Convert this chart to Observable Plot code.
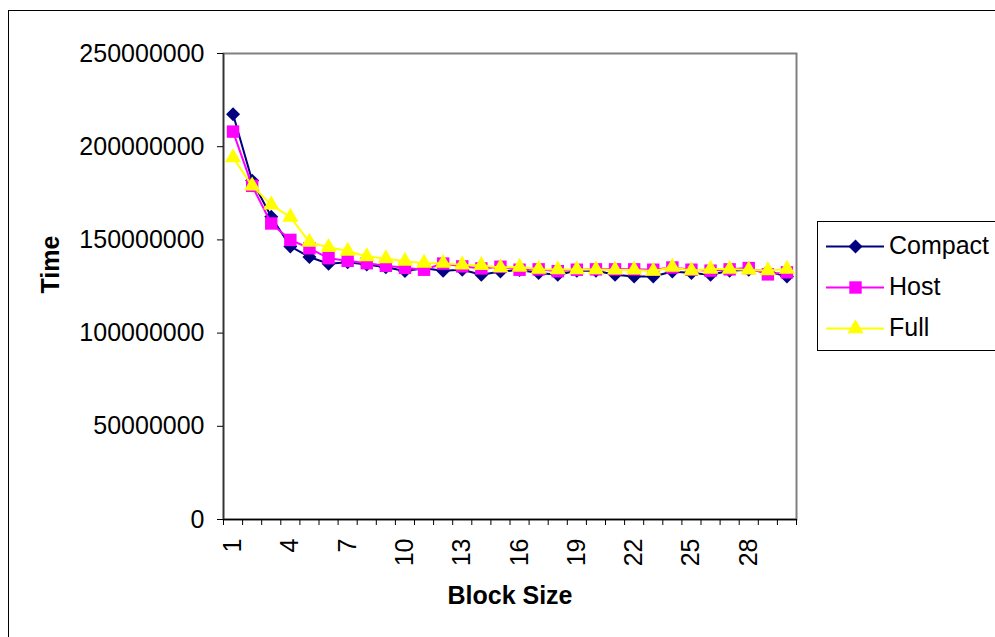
<!DOCTYPE html>
<html><head><meta charset="utf-8">
<script src="https://cdn.jsdelivr.net/npm/d3@7"></script>
<script src="https://cdn.jsdelivr.net/npm/@observablehq/plot@0.6"></script>
<style>
html,body{margin:0;padding:0;background:#fff;overflow:hidden;width:995px;height:637px;}
#wrap{position:relative;width:995px;height:637px;font-family:"Liberation Sans",Arial,sans-serif;color:#000;}
#border{position:absolute;left:8px;top:10px;width:1100px;height:800px;border:1px solid #000;box-sizing:border-box;}
#chart{position:absolute;left:0;top:0;width:995px;height:637px;}
#legend{position:absolute;left:817px;top:221px;width:300px;height:130px;border:1px solid #000;background:#fff;box-sizing:border-box;}
.item{position:absolute;left:0;width:300px;height:30px;}
.item svg{position:absolute;left:8px;top:0;max-width:none;}
.item span{position:absolute;left:71px;top:0px;font-size:25px;line-height:28px;white-space:nowrap;}
</style></head><body>
<div id="wrap"><div id="border"></div><div id="chart"></div><div id="legend"></div></div>
<script>
const blockSizes = [1,2,3,4,5,6,7,8,9,10,11,12,13,14,15,16,17,18,19,20,21,22,23,24,25,26,27,28,29,30];
const seriesNames = ["Compact","Host","Full"];
const compact = [217400000,181800000,162400000,146500000,140800000,137200000,138000000,136800000,135300000,133300000,
                 134800000,133500000,134000000,131300000,133000000,133800000,132200000,131300000,133500000,133500000,
                 131300000,130400000,130400000,133000000,132200000,131300000,133500000,134000000,133200000,130400000];
const host    = [208100000,179000000,158800000,150000000,145500000,140200000,138800000,137500000,136100000,135000000,
                 134000000,137300000,135800000,134700000,135600000,134000000,134200000,133200000,134000000,134200000,
                 134200000,134200000,134000000,135200000,134000000,133500000,134200000,134900000,131500000,132600000];
const full    = [194200000,179000000,168800000,162200000,148800000,146000000,144000000,141100000,140000000,138600000,
                 137600000,137500000,136600000,136300000,135200000,135400000,134300000,134100000,134100000,134100000,
                 133900000,133900000,133300000,135400000,133500000,134400000,134400000,133900000,133500000,134400000];
const yTicks = [0,50000000,100000000,150000000,200000000,250000000];
const xLabelTicks = [1,4,7,10,13,16,19,22,25,28];
const xTickBoundaries = [0.5,1.5,2.5,3.5,4.5,5.5,6.5,7.5,8.5,9.5,10.5,11.5,12.5,13.5,14.5,15.5,16.5,17.5,18.5,19.5,20.5,21.5,22.5,23.5,24.5,25.5,26.5,27.5,28.5,29.5,30.5];
const colors = {Compact:"#000080", Host:"#FF00FF", Full:"#FFFF00"};
const symbols = {Compact:"diamond2", Host:"square", Full:"triangle"};
const radii = {Compact:6.3, Host:7, Full:6};

const table = {Compact: compact, Host: host, Full: full};
const rows = name => blockSizes.map((b,i)=>({b, v: table[name][i]}));

const seriesMarks = seriesNames.flatMap(name => [
  Plot.line(rows(name), {x:"b", y:"v", stroke: colors[name], strokeWidth: 2}),
  Plot.dot(rows(name), {x:"b", y:"v", symbol: symbols[name], r: radii[name], fill: colors[name], stroke: "none"})
]);

const chart = Plot.plot({
  width: 995, height: 637,
  marginLeft: 223, marginRight: 199, marginTop: 53, marginBottom: 118,
  style: {fontFamily: "Liberation Sans, Arial, sans-serif", background: "transparent", color: "#000"},
  x: {type: "linear", domain: [xTickBoundaries[0], xTickBoundaries[xTickBoundaries.length-1]]},
  y: {domain: [yTicks[0], yTicks[yTicks.length-1]]},
  marks: [
    Plot.frame({stroke: "#808080", strokeWidth: 2}),
    Plot.ruleY([yTicks[0]], {stroke: "#000", strokeWidth: 1.5}),
    Plot.ruleX([xTickBoundaries[0]], {stroke: "#333", strokeWidth: 1.5}),
    Plot.axisY({ticks: yTicks, tickFormat: d => String(d), tickSize: 6, tickPadding: 13, fontSize: 25, label: null}),
    Plot.axisX({ticks: xTickBoundaries, tickFormat: () => "", tickSize: 6, label: null}),
    Plot.axisX({ticks: xLabelTicks, tickSize: 0, tickRotate: -90, tickPadding: 19, fontSize: 25, label: null}),
    Plot.text(["Time"], {text: d => d, frameAnchor: "left", dx: -173, dy: 7, rotate: -90, fontWeight: "bold", fontSize: 25}),
    Plot.text(["Block Size"], {text: d => d, frameAnchor: "bottom", dy: 84, fontWeight: "bold", fontSize: 25}),
    ...seriesMarks
  ]
});
document.getElementById("chart").appendChild(chart);

// legend
const legend = document.getElementById("legend");
const rowTops = [9, 50, 91];
seriesNames.forEach((name, i) => {
  const item = document.createElement("div");
  item.className = "item";
  item.style.top = rowTops[i] + "px";
  const sw = Plot.plot({
    width: 58, height: 30, margin: 0,
    x: {domain: [0, 1], axis: null}, y: {domain: [0, 1], axis: null},
    style: {background: "transparent", maxWidth: "none"},
    marks: [
      Plot.ruleY([0.5], {stroke: colors[name], strokeWidth: 2}),
      Plot.dot([0.5], {x: d => d, y: d => d, symbol: symbols[name], r: radii[name], fill: colors[name]})
    ]
  });
  item.appendChild(sw);
  const label = document.createElement("span");
  label.textContent = name;
  item.appendChild(label);
  legend.appendChild(item);
});
</script>
</body></html>
